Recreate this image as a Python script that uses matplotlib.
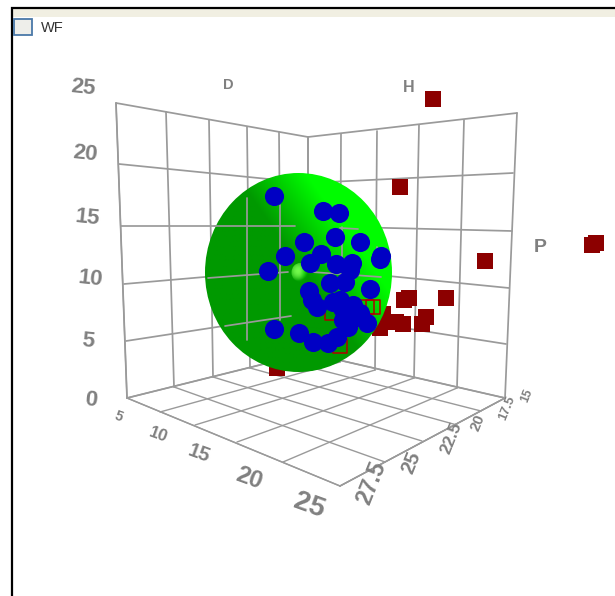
import numpy as np
import matplotlib
matplotlib.use("Agg")
import matplotlib.pyplot as plt
from matplotlib.patches import Ellipse, Rectangle

blue_x = [274, 323, 339, 335, 360, 304, 285, 321, 310, 336, 352, 350, 268, 380, 330, 345, 370,
          309, 312, 317, 333, 342, 353, 360, 367, 357, 343, 348, 337, 328, 313, 299, 274, 340,
          346, 381]
blue_y = [196, 211, 213, 237, 242, 242, 256, 254, 263, 264, 263, 270, 271, 259, 283, 282, 289,
          291, 300, 307, 302, 308, 305, 313, 323, 317, 320, 327, 337, 343, 342, 333, 329, 300,
          314, 256]
red_x = [433, 400, 485, 592, 596, 404, 409, 446, 426, 422, 396, 403, 380, 383, 277]
red_y = [99, 187, 261, 245, 243, 300, 298, 298, 317, 324, 322, 324, 328, 314, 368]
hollow_x = [367, 373, 332, 340]
hollow_y = [307, 307, 313, 346]

z_ticks = ["25", "20", "15", "10", "5", "0"]
z_tick_x = [83, 85, 88, 91, 88, 91]
z_tick_y = [88, 154, 218, 279, 341, 400]
d_ticks = ["5", "10", "15", "20", "25"]
d_tick_x = [119, 158, 199, 249, 309]
d_tick_y = [417, 435, 454, 478, 506]
d_tick_size = [14, 17, 20, 24, 28]
p_ticks = ["27.5", "25", "22.5", "20", "17.5", "15"]
p_tick_x = [372, 411, 451, 478, 507, 527]
p_tick_y = [483, 463, 438, 423, 408, 396]
p_tick_size = [23, 20, 17, 15, 13, 12]

# wall and floor grid nodes
left_top = [(116, 103), (166, 112), (209, 120), (247, 127), (279, 132), (308, 137)]
left_bot = [(127, 398), (174, 387), (213, 377), (250, 368), (281, 360), (308, 353)]
right_top = [(308, 137), (341, 134), (377, 131), (419, 125), (464, 120), (517, 113)]
right_bot = [(308, 353), (340, 362), (375, 370), (414, 378), (457, 388), (505, 398)]
edge_left = [(116, 103), (119, 164), (121, 226), (124, 284), (126, 341), (127, 398)]
edge_mid = [(308, 137), (308, 183), (308, 226), (308, 268), (308, 313), (308, 353)]
edge_right = [(517, 113), (513, 173), (512, 231), (509, 288), (506, 344), (505, 398)]
front_left = [(127, 398), (160, 412), (195, 425), (237, 442), (283, 462), (340, 486)]
front_right = [(340, 486), (385, 462), (422, 441), (457, 425), (481, 411), (505, 398)]
# grid pieces that show through the sphere
over_segments = [[(247, 198), (247, 340)], [(280, 205), (280, 320)], [(214, 226), (295, 226)],
                 [(208, 278), (288, 272)], [(225, 326), (291, 316)], [(342, 227), (342, 267)],
                 [(340, 228), (358, 229)], [(312, 272), (381, 277)], [(377, 247), (377, 264)]]

GREY = "#9a9a9a"
TXT = "#808080"
RED = "#8c0000"
BLUE = "#0000c4"

fig = plt.figure(figsize=(6.15, 5.96), dpi=100)
ax = fig.add_axes([0, 0, 1, 1])
ax.set_xlim(0, 615)
ax.set_ylim(596, 0)
ax.axis("off")

# window chrome
ax.add_patch(Rectangle((13, 9), 602, 8, fc="#f1efe2", ec="none", zorder=1))
ax.plot([12, 12, 615], [596, 8, 8], color="black", lw=1.6, zorder=2, solid_joinstyle="miter")
ax.add_patch(Rectangle((14, 18.5), 18, 16.5, fc="#eeeeea", ec="#4a78a8", lw=1.3, zorder=2))
ax.text(41, 27.5, "WF", fontsize=10.5, family="Liberation Sans", color="#333333",
        va="center", ha="left", zorder=2)


def seg(a, b, z=3, lw=1.25):
    ax.plot([a[0], b[0]], [a[1], b[1]], color=GREY, lw=lw, zorder=z, solid_capstyle="round")


for a, b in zip(left_top, left_bot):
    seg(a, b)
for a, b in zip(right_top, right_bot):
    seg(a, b)
for a, b, c in zip(edge_left, edge_mid, edge_right):
    seg(a, b)
    seg(b, c)
seg(left_top[0], front_left[0], lw=1.0)
for a, b in zip(front_left, right_bot):
    seg(a, b, lw=1.0)
for a, b in zip(left_bot, front_right):
    seg(a, b, lw=1.0)
seg(front_left[-1], front_right[-1], lw=1.0)
seg(front_left[0], front_left[-1], lw=1.0)
seg(front_right[0], front_right[-1], lw=1.0)

# red squares behind the sphere
ax.scatter(red_x, red_y, s=118, marker="s", color=RED, linewidths=0, zorder=4)

# sphere, shaded towards the upper right
cx, cy, rx, ry = 298.5, 272.5, 93.5, 99.5
px = np.linspace(cx - rx, cx + rx, 240)
py = np.linspace(cy - ry, cy + ry, 240)
X, Y = np.meshgrid(px, py)
t = ((X - cx) / rx * 0.8 - (Y - cy) / ry * 0.6)
g = np.clip((t - 0.05) / 0.62, 0, 1) * 0.98
g = 0.60 + 0.40 * g
rgb = np.dstack([np.zeros_like(g), g, np.zeros_like(g)])
im = ax.imshow(rgb, extent=[cx - rx, cx + rx, cy + ry, cy - ry], zorder=5,
               interpolation="bilinear", aspect="auto")
clip = Ellipse((cx, cy), 2 * rx, 2 * ry, transform=ax.transData, fc="none", ec="none")
ax.add_patch(clip)
im.set_clip_path(clip)
ax.set_xlim(0, 615)
ax.set_ylim(596, 0)

# highlight
hx = np.linspace(-1, 1, 40)
HX, HY = np.meshgrid(hx, hx)
hg = np.clip(1 - 0.8 * (HX + 0.2) ** 2 - 0.8 * (HY + 0.2) ** 2, 0, 1)
hrgb = np.dstack([0.45 * hg * (1 - np.clip(HX, 0, 1)), 0.62 + 0.36 * hg, 0.3 * hg * (1 - np.clip(HX, 0, 1))])
h = ax.imshow(hrgb, extent=[291, 309, 282, 263], zorder=6, interpolation="bilinear", aspect="auto")
hclip = Ellipse((300, 272.5), 17, 19, transform=ax.transData, fc="none", ec="none")
ax.add_patch(hclip)
h.set_clip_path(hclip)
ax.set_xlim(0, 615)
ax.set_ylim(596, 0)

for a, b in over_segments:
    seg(a, b, z=7)

ax.scatter(hollow_x, hollow_y, s=90, marker="s", facecolors="none", edgecolors="#b00000",
           linewidths=1.1, zorder=8)
ax.scatter(blue_x, blue_y, s=190, marker="o", color=BLUE, linewidths=0, zorder=9)

# labels
bold = dict(family="Liberation Sans", color=TXT, fontweight="bold", ha="center", va="center")
for s, x, y in zip(z_ticks, z_tick_x, z_tick_y):
    ax.text(x, y, s, fontsize=16, rotation=-6, **bold)
for s, x, y, f in zip(d_ticks, d_tick_x, d_tick_y, d_tick_size):
    ax.text(x, y, s, fontsize=f * 0.72, rotation=-20, **bold)
for s, x, y, f in zip(p_ticks, p_tick_x, p_tick_y, p_tick_size):
    ax.text(x, y, s, fontsize=f * 0.72, rotation=68, **bold)
ax.text(228, 85, "D", fontsize=10.5, **bold)
ax.text(409, 88, "H", fontsize=11.5, **bold)
ax.text(540, 248, "P", fontsize=14, **bold)

fig.savefig("out.png", dpi=100)
